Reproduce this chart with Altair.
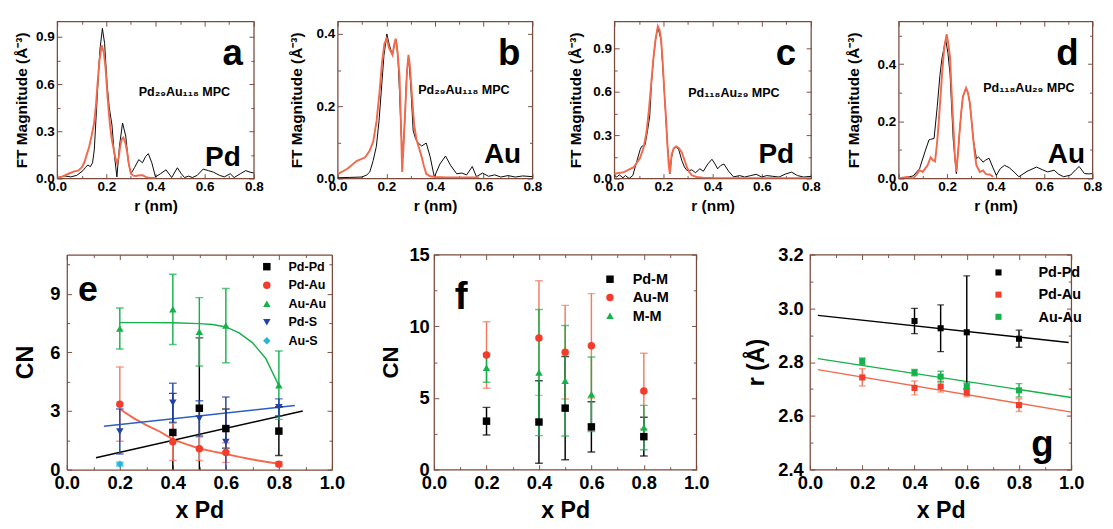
import altair as alt
import pandas as pd

FONT = "Liberation Sans"
FRAME = "#7a4a3c"
BLACK = "#000000"
RED = "#f23c2c"
SALMON = "#f2694c"
ERR_RED = "#f47a60"
GREEN = "#16b14b"
BLUE = "#2142a8"
CYAN = "#25b6d9"

# ---------------- panel a : Pd29Au118, Pd edge ----------------
a_black_r = [0.00, 0.03, 0.055, 0.08, 0.105, 0.115, 0.125, 0.135, 0.144, 0.151, 0.164, 0.174, 0.184, 0.193,
             0.203, 0.212, 0.223, 0.232, 0.243, 0.253, 0.266, 0.279, 0.29, 0.30, 0.315, 0.332, 0.347, 0.36,
             0.371, 0.385, 0.40, 0.42, 0.443, 0.466, 0.489, 0.505, 0.518, 0.535, 0.55, 0.57, 0.594, 0.615,
             0.636, 0.66, 0.68, 0.704, 0.72, 0.745, 0.767, 0.785, 0.80]
a_black_v = [0.005, 0.016, 0.01, 0.02, 0.05, 0.07, 0.086, 0.075, 0.1, 0.18, 0.55, 0.82, 0.955, 0.86,
             0.6, 0.45, 0.34, 0.16, 0.01, 0.2, 0.353, 0.27, 0.1, 0.03, 0.07, 0.12, 0.10, 0.14,
             0.158, 0.10, 0.01, 0.03, 0.055, 0.006, 0.068, 0.03, 0.006, 0.015, 0.006, 0.02, 0.06, 0.05,
             0.04, 0.02, 0.01, 0.03, 0.006, 0.03, 0.05, 0.04, 0.035]
a_red_r = [0.00, 0.02, 0.046, 0.07, 0.085, 0.10, 0.11, 0.12, 0.13, 0.14, 0.15, 0.157, 0.164, 0.172, 0.181,
           0.19, 0.197, 0.205, 0.214, 0.222, 0.23, 0.237, 0.243, 0.25, 0.256, 0.263, 0.269, 0.277, 0.285,
           0.292, 0.30, 0.31, 0.32, 0.335, 0.348, 0.36, 0.374, 0.39, 0.40]
a_red_v = [0.005, 0.012, 0.03, 0.045, 0.05, 0.07, 0.1, 0.15, 0.2, 0.27, 0.35, 0.45, 0.6, 0.75, 0.847,
           0.8, 0.7, 0.52, 0.35, 0.25, 0.185, 0.13, 0.1, 0.13, 0.2, 0.25, 0.261, 0.23, 0.165,
           0.09, 0.03, 0.018, 0.016, 0.02, 0.02, 0.01, 0.004, 0.003, 0.003]

# ---------------- panel b : Pd29Au118, Au edge ----------------
b_black_r = [0.00, 0.05, 0.10, 0.12, 0.132, 0.146, 0.159, 0.17, 0.179, 0.19, 0.202, 0.212, 0.225, 0.233,
             0.241, 0.248, 0.254, 0.261, 0.268, 0.275, 0.283, 0.291, 0.30, 0.31, 0.32, 0.331, 0.345, 0.364,
             0.38, 0.397, 0.42, 0.443, 0.465, 0.489, 0.51, 0.53, 0.553, 0.57, 0.595, 0.62, 0.645, 0.67,
             0.70, 0.73, 0.76, 0.80]
b_black_v = [0.002, 0.003, 0.004, 0.01, 0.018, 0.05, 0.089, 0.16, 0.24, 0.34, 0.40, 0.37, 0.342, 0.37,
             0.384, 0.33, 0.24, 0.12, 0.06, 0.15, 0.28, 0.338, 0.26, 0.133, 0.11, 0.098, 0.09, 0.098,
             0.06, 0.004, 0.04, 0.062, 0.035, 0.013, 0.015, 0.01, 0.033, 0.005, 0.015, 0.006, 0.01, 0.004,
             0.008, 0.004, 0.007, 0.005]
b_red_r = [0.00, 0.04, 0.079, 0.112, 0.13, 0.146, 0.16, 0.172, 0.182, 0.192, 0.201, 0.212, 0.225, 0.232,
           0.238, 0.246, 0.254, 0.26, 0.265, 0.271, 0.278, 0.285, 0.291, 0.297, 0.304, 0.314, 0.324, 0.334,
           0.344, 0.354, 0.364, 0.38, 0.40, 0.45, 0.50, 0.55, 0.58]
b_red_v = [0.012, 0.027, 0.049, 0.058, 0.075, 0.102, 0.16, 0.24, 0.32, 0.373, 0.387, 0.36, 0.342, 0.37,
           0.387, 0.35, 0.284, 0.15, 0.018, 0.1, 0.196, 0.3, 0.342, 0.31, 0.24, 0.15, 0.107, 0.085,
           0.062, 0.035, 0.013, 0.006, 0.004, 0.003, 0.003, 0.003, 0.003]

# ---------------- panel c : Pd118Au29, Pd edge ----------------
c_black_r = [0.00, 0.01, 0.02, 0.035, 0.045, 0.06, 0.075, 0.092, 0.105, 0.111, 0.125, 0.135, 0.144, 0.151,
             0.16, 0.168, 0.177, 0.19, 0.203, 0.216, 0.226, 0.233, 0.24, 0.249, 0.262, 0.275, 0.285, 0.295,
             0.305, 0.315, 0.33, 0.348, 0.362, 0.38, 0.397, 0.41, 0.42, 0.433, 0.446, 0.465, 0.485, 0.51,
             0.53, 0.555, 0.577, 0.60, 0.62, 0.645, 0.67, 0.695, 0.721, 0.745, 0.77, 0.80]
c_black_v = [0.022, 0.01, 0.025, 0.005, 0.02, 0.0, 0.02, 0.122, 0.2, 0.222, 0.233, 0.33, 0.433, 0.66,
             0.85, 0.967, 1.05, 0.96, 0.61, 0.233, 0.033, 0.15, 0.2, 0.222, 0.2, 0.122, 0.08, 0.056,
             0.055, 0.06, 0.04, 0.067, 0.05, 0.1, 0.133, 0.1, 0.067, 0.09, 0.1, 0.05, 0.011, 0.02,
             0.01, 0.02, 0.029, 0.01, 0.02, 0.015, 0.01, 0.03, 0.044, 0.02, 0.01, 0.015]
c_red_r = [0.00, 0.039, 0.079, 0.105, 0.12, 0.131, 0.141, 0.151, 0.16, 0.168, 0.177, 0.184, 0.19, 0.197,
           0.203, 0.21, 0.216, 0.221, 0.226, 0.233, 0.242, 0.252, 0.263, 0.275, 0.285, 0.295, 0.305, 0.315,
           0.335, 0.36, 0.40, 0.50, 0.60, 0.70, 0.80]
c_red_v = [0.033, 0.044, 0.078, 0.144, 0.22, 0.322, 0.48, 0.678, 0.85, 0.967, 1.056, 1.03, 0.967, 0.8,
           0.611, 0.42, 0.233, 0.1, 0.033, 0.167, 0.21, 0.222, 0.21, 0.178, 0.13, 0.078, 0.045, 0.022,
           0.01, 0.006, 0.003, 0.002, 0.002, 0.002, 0.002]

# ---------------- panel d : Pd118Au29, Au edge ----------------
d_black_r = [0.00, 0.033, 0.06, 0.086, 0.112, 0.125, 0.132, 0.146, 0.159, 0.17, 0.179, 0.194, 0.203, 0.212,
             0.225, 0.238, 0.245, 0.251, 0.258, 0.265, 0.278, 0.286, 0.294, 0.301, 0.308, 0.321, 0.329, 0.337,
             0.348, 0.36, 0.373, 0.388, 0.403, 0.42, 0.437, 0.456, 0.476, 0.496, 0.53, 0.569, 0.595, 0.615,
             0.642, 0.66, 0.681, 0.71, 0.73, 0.745, 0.767, 0.785, 0.80]
d_black_v = [0.0, 0.004, 0.009, 0.034, 0.103, 0.135, 0.137, 0.14, 0.251, 0.36, 0.423, 0.486, 0.44, 0.366,
             0.137, 0.017, 0.09, 0.16, 0.23, 0.286, 0.317, 0.3, 0.263, 0.2, 0.137, 0.069, 0.075, 0.069,
             0.057, 0.065, 0.071, 0.04, 0.011, 0.035, 0.046, 0.038, 0.023, 0.006, 0.025, 0.04, 0.03, 0.023,
             0.029, 0.015, 0.006, 0.012, 0.03, 0.042, 0.017, 0.016, 0.017]
d_red_r = [0.00, 0.033, 0.045, 0.06, 0.075, 0.086, 0.099, 0.119, 0.132, 0.14, 0.15, 0.158, 0.165, 0.172,
           0.179, 0.188, 0.198, 0.205, 0.212, 0.218, 0.225, 0.232, 0.238, 0.245, 0.251, 0.258, 0.265, 0.278,
           0.286, 0.294, 0.301, 0.308, 0.315, 0.321, 0.335, 0.348, 0.36, 0.375, 0.39]
d_red_v = [0.0, 0.005, 0.003, 0.0, 0.015, 0.029, 0.023, 0.046, 0.074, 0.065, 0.06, 0.12, 0.194, 0.28,
           0.366, 0.46, 0.505, 0.47, 0.423, 0.31, 0.194, 0.08, 0.023, 0.09, 0.16, 0.23, 0.286, 0.317,
           0.3, 0.263, 0.2, 0.137, 0.08, 0.046, 0.023, 0.028, 0.015, 0.014, 0.006]

# ---------------- panel e : coordination numbers ----------------
e_names = ["Pd-Pd", "Pd-Au", "Au-Au", "Pd-S", "Au-S"]
e_colors = [BLACK, RED, GREEN, BLUE, CYAN]
e_err_colors = [BLACK, ERR_RED, GREEN, BLUE, CYAN]
e_shapes = ["square", "circle", "triangle-up", "triangle-down", "diamond"]
e_x = {"Pd-Pd": [0.4, 0.5, 0.6, 0.8], "Pd-Au": [0.2, 0.4, 0.5, 0.6, 0.8],
       "Au-Au": [0.2, 0.4, 0.5, 0.6, 0.8], "Pd-S": [0.2, 0.4, 0.5, 0.6, 0.8], "Au-S": [0.2]}
e_v = {"Pd-Pd": [1.9, 3.14, 2.1, 1.97], "Pd-Au": [3.35, 1.42, 1.07, 0.87, 0.28],
       "Au-Au": [7.22, 8.2, 7.05, 7.37, 4.32], "Pd-S": [1.95, 3.42, 2.62, 1.41, 3.19], "Au-S": [0.28]}
e_e = {"Pd-Pd": [2.0, 3.6, 1.0, 1.25], "Pd-Au": [1.9, 0.95, 0.6, 0.5, 0.12],
       "Au-Au": [1.05, 1.8, 1.75, 1.9, 1.75], "Pd-S": [1.15, 1.0, 0.9, 2.3, 0.43], "Au-S": [0.1]}
e_fit_blue_x = [0.14, 0.86]
e_fit_blue_v = [2.22, 3.28]
e_fit_black_x = [0.11, 0.89]
e_fit_black_v = [0.61, 3.0]
e_fit_red_x = [0.2, 0.25, 0.3, 0.35, 0.4, 0.45, 0.5, 0.55, 0.6, 0.65, 0.7, 0.75, 0.8]
e_fit_red_v = [3.1, 2.65, 2.28, 1.95, 1.55, 1.3, 1.08, 0.93, 0.8, 0.65, 0.52, 0.4, 0.3]
e_fit_green_x = [0.2, 0.3, 0.4, 0.5, 0.55, 0.6, 0.65, 0.7, 0.75, 0.8]
e_fit_green_v = [7.52, 7.52, 7.51, 7.47, 7.42, 7.3, 7.0, 6.5, 5.7, 4.3]

# ---------------- panel f : total coordination ----------------
f_names = ["Pd-M", "Au-M", "M-M"]
f_colors = [BLACK, RED, GREEN]
f_err_colors = [BLACK, ERR_RED, GREEN]
f_shapes = ["square", "circle", "triangle-up"]
f_xs = [0.2, 0.4, 0.5, 0.6, 0.8]
f_v = {"Pd-M": [3.38, 3.32, 4.29, 2.98, 2.3], "Au-M": [8.0, 9.18, 8.19, 8.64, 5.48],
       "M-M": [7.1, 6.77, 6.2, 5.26, 2.93]}
f_e = {"Pd-M": [0.96, 2.88, 3.6, 1.75, 1.35], "Au-M": [2.32, 4.0, 3.27, 3.64, 2.64],
       "M-M": [1.0, 4.4, 3.85, 2.6, 1.55]}

# ---------------- panel g : bond distances ----------------
g_names = ["Pd-Pd", "Pd-Au", "Au-Au"]
g_colors = [BLACK, RED, GREEN]
g_err_colors = [BLACK, ERR_RED, GREEN]
g_x = {"Pd-Pd": [0.4, 0.5, 0.6, 0.8], "Pd-Au": [0.2, 0.4, 0.5, 0.6, 0.8], "Au-Au": [0.2, 0.4, 0.5, 0.6, 0.8]}
g_v = {"Pd-Pd": [2.953, 2.926, 2.911, 2.887], "Pd-Au": [2.743, 2.704, 2.709, 2.686, 2.640],
       "Au-Au": [2.803, 2.761, 2.746, 2.71, 2.695]}
g_e = {"Pd-Pd": [0.047, 0.087, 0.21, 0.032], "Pd-Au": [0.032, 0.026, 0.02, 0.015, 0.024],
       "Au-Au": [0.012, 0.012, 0.02, 0.012, 0.025]}
g_fit_x = {"Pd-Pd": [0.03, 0.99], "Pd-Au": [0.03, 1.0], "Au-Au": [0.03, 1.0]}
g_fit_v = {"Pd-Pd": [2.974, 2.873], "Pd-Au": [2.772, 2.614], "Au-Au": [2.813, 2.668]}
g_fit_colors = {"Pd-Pd": BLACK, "Pd-Au": SALMON, "Au-Au": GREEN}

TOP_TICKS_X = [0.0, 0.2, 0.4, 0.6, 0.8]
TOP_MINOR_X = [0.1, 0.3, 0.5, 0.7]
BOT_TICKS_X = [0.0, 0.2, 0.4, 0.6, 0.8, 1.0]
BOT_MINOR_X = [0.1, 0.3, 0.5, 0.7, 0.9]


def mkscales(xdom, ydom, xrange=None):
    if xrange is None:
        xs = alt.Scale(domain=xdom, nice=False, zero=False)
    else:
        xs = alt.Scale(domain=xdom, range=xrange, nice=False, zero=False)
    return xs, alt.Scale(domain=ydom, nice=False, zero=False)


def frame_layers(xs, ys, xdom, ydom, xmaj, xmin, ymaj, ymin, big=5, small=3, left_off=0, domains=False):
    df = pd.DataFrame({"fx": [xdom[0]], "fy": [ydom[0]]})
    out = []
    for orient in ("bottom", "top"):
        for vals, sz in ((xmaj, big), (xmin, small)):
            out.append(alt.Chart(df).mark_point(opacity=0).encode(
                x=alt.X("fx:Q", scale=xs, axis=alt.Axis(
                    orient=orient, values=vals, labels=False, domain=False, ticks=True,
                    tickSize=sz, offset=-sz, tickColor=FRAME, tickWidth=1, grid=False, title=None)),
                y=alt.Y("fy:Q", scale=ys, axis=None)))
    for orient in ("left", "right"):
        for vals, sz in ((ymaj, big), (ymin, small)):
            off = -(sz + (left_off if orient == "left" else 0))
            out.append(alt.Chart(df).mark_point(opacity=0).encode(
                x=alt.X("fx:Q", scale=xs, axis=None),
                y=alt.Y("fy:Q", scale=ys, axis=alt.Axis(
                    orient=orient, values=vals, labels=False, domain=False, ticks=True,
                    tickSize=sz, offset=off, tickColor=FRAME, tickWidth=1, grid=False, title=None))))
    if domains:
        out.append(alt.Chart(df).mark_point(opacity=0).encode(
            x=alt.X("fx:Q", scale=xs, axis=alt.Axis(
                orient="top", labels=False, ticks=False, domain=True, domainColor=FRAME,
                domainWidth=1.3, grid=False, title=None)),
            y=alt.Y("fy:Q", scale=ys, axis=None)))
        out.append(alt.Chart(df).mark_point(opacity=0).encode(
            x=alt.X("fx:Q", scale=xs, axis=None),
            y=alt.Y("fy:Q", scale=ys, axis=alt.Axis(
                orient="right", labels=False, ticks=False, domain=True, domainColor=FRAME,
                domainWidth=1.3, grid=False, title=None))))
    return out


def axis_layer(xs, ys, xdom, ydom, xvals, yvals, xfmt, yfmt, xtitle, ytitle, st, yoff=0, domain=False):
    df = pd.DataFrame({"fx": [xdom[0]], "fy": [ydom[0]]})
    common = dict(ticks=False, tickSize=0, domain=domain, domainColor=FRAME, domainWidth=1.3,
                  grid=False, labelFlush=False,
                  labelOverlap=False, labelFont=FONT, labelFontWeight="bold", labelColor="black",
                  titleFont=FONT, titleFontWeight="bold", titleColor="black")
    return alt.Chart(df).mark_point(opacity=0).encode(
        x=alt.X("fx:Q", scale=xs, axis=alt.Axis(
            orient="bottom", values=xvals, format=xfmt, title=xtitle,
            labelFontSize=st["lfs"], labelPadding=st["xlp"],
            titleFontSize=st["xtfs"], titlePadding=st["xtp"], **common)),
        y=alt.Y("fy:Q", scale=ys, axis=alt.Axis(
            orient="left", values=yvals, format=yfmt, title=ytitle, offset=yoff,
            labelFontSize=st["lfs"], labelPadding=st["ylp"],
            titleFontSize=st["ytfs"], titlePadding=st["ytp"], **common)))


def text_layer(txt, x, y, size, align="center"):
    return alt.Chart(pd.DataFrame({"t": [txt]})).mark_text(
        font=FONT, fontSize=size, fontWeight="bold", color="black", align=align,
        baseline="alphabetic").encode(x=alt.value(x), y=alt.value(y), text="t:N")


YT_TOP = "FT Magnitude (Å⁻³)"


def top_panel(br, bv, rr, rv, ymax, ymaj, ymin, width, ytp, texts):
    st = dict(lfs=14, xlp=2, xtfs=16, xtp=4, ylp=3, ytfs=16, ytp=ytp)
    xdom, ydom = [0, 0.8], [0, ymax]
    xs, ys = mkscales(xdom, ydom)
    layers = [axis_layer(xs, ys, xdom, ydom, TOP_TICKS_X, ymaj, ".1f", ".1f", "r (nm)", YT_TOP, st)]
    layers += frame_layers(xs, ys, xdom, ydom, TOP_TICKS_X, TOP_MINOR_X, ymaj, ymin)
    layers.append(alt.Chart(pd.DataFrame({"r": br, "v": bv})).mark_line(
        color=BLACK, strokeWidth=1, clip=True).encode(
        x=alt.X("r:Q", scale=xs, axis=None), y=alt.Y("v:Q", scale=ys, axis=None)))
    layers.append(alt.Chart(pd.DataFrame({"r": rr, "v": rv})).mark_line(
        color=SALMON, strokeWidth=2, clip=True).encode(
        x=alt.X("r:Q", scale=xs, axis=None), y=alt.Y("v:Q", scale=ys, axis=None)))
    for t in texts:
        layers.append(text_layer(*t))
    return alt.layer(*layers).resolve_axis(x="independent", y="independent").properties(
        width=width, height=163)


def err_layers(xs, ys, xv, vv, ev, color, cap=8):
    df = pd.DataFrame({"x": xv, "v": vv, "e": ev})
    base = alt.Chart(df).transform_calculate(lo="datum.v - datum.e", hi="datum.v + datum.e")
    rule = base.mark_rule(color=color, strokeWidth=1.5, clip=True).encode(
        x=alt.X("x:Q", scale=xs, axis=None), y=alt.Y("lo:Q", scale=ys, axis=None), y2="hi:Q")
    lo = base.mark_tick(color=color, orient="horizontal", size=cap, thickness=1.5, clip=True).encode(
        x=alt.X("x:Q", scale=xs, axis=None), y=alt.Y("lo:Q", scale=ys, axis=None))
    hi = base.mark_tick(color=color, orient="horizontal", size=cap, thickness=1.5, clip=True).encode(
        x=alt.X("x:Q", scale=xs, axis=None), y=alt.Y("hi:Q", scale=ys, axis=None))
    return [rule, lo, hi]


def legend(lx, ly, fs, ss, rp, lo, sym=None):
    kw = dict(title=None, orient="none", legendX=lx, legendY=ly, padding=0, labelFont=FONT,
              labelFontSize=fs, labelFontWeight="bold", labelColor="black", symbolSize=ss,
              symbolStrokeWidth=0, rowPadding=rp, labelOffset=lo)
    if sym:
        kw["symbolType"] = sym
    return alt.Legend(**kw)


def line_layer(xs, ys, xv, vv, color, w=1.5):
    return alt.Chart(pd.DataFrame({"x": xv, "v": vv})).mark_line(
        color=color, strokeWidth=w, clip=True).encode(
        x=alt.X("x:Q", scale=xs, axis=None), y=alt.Y("v:Q", scale=ys, axis=None))


# ---- top row ----
pa = top_panel(a_black_r, a_black_v, a_red_r, a_red_v, 1.0, [0.0, 0.3, 0.6, 0.9], [0.15, 0.45, 0.75], 204, 6,
               [("a", 182, 45, 38), ("Pd₂₉Au₁₁₈ MPC", 132, 77, 13), ("Pd", 172, 150, 29)])
pb = top_panel(b_black_r, b_black_v, b_red_r, b_red_v, 0.435, [0.0, 0.2, 0.4], [0.1, 0.3], 202, 12,
               [("b", 178, 45, 38), ("Pd₂₉Au₁₁₈ MPC", 131, 75, 13), ("Au", 171, 147, 29)])
pc = top_panel(c_black_r, c_black_v, c_red_r, c_red_v, 1.089, [0.0, 0.3, 0.6, 0.9], [0.15, 0.45, 0.75], 204, 10,
               [("c", 178, 45, 38), ("Pd₁₁₈Au₂₉ MPC", 124, 78, 13), ("Pd", 168, 147, 29)])
pd_ = top_panel(d_black_r, d_black_v, d_red_r, d_red_v, 0.55, [0.0, 0.2, 0.4], [0.1, 0.3, 0.5], 201, 16,
                [("d", 175, 45, 38), ("Pd₁₁₈Au₂₉ MPC", 135, 73, 13), ("Au", 174, 147, 29)])

# ---- panel e (plot area inset by EO px inside its view) ----
EO = 10
xdom, ydom = [0, 1.0], [0, 11]
xs, ys = mkscales(xdom, ydom, [EO, 275 + EO])
E_ST = dict(lfs=19, xlp=5, xtfs=24, xtp=7, ylp=7, ytfs=24, ytp=13)
le = [axis_layer(xs, ys, xdom, ydom, BOT_TICKS_X, [0, 3, 6, 9], ".1f", "d", "x Pd", "CN", E_ST,
                 yoff=-EO, domain=True)]
le += frame_layers(xs, ys, xdom, ydom, BOT_TICKS_X, BOT_MINOR_X, [0, 3, 6, 9], [1.5, 4.5, 7.5, 10.5],
                   left_off=EO, domains=True)
le.append(line_layer(xs, ys, e_fit_green_x, e_fit_green_v, GREEN))
le.append(line_layer(xs, ys, e_fit_red_x, e_fit_red_v, SALMON, 2))
le.append(line_layer(xs, ys, e_fit_black_x, e_fit_black_v, BLACK))
le.append(line_layer(xs, ys, e_fit_blue_x, e_fit_blue_v, "#2a5fc4"))
rows = []
for n, c in zip(e_names, e_err_colors):
    le += err_layers(xs, ys, e_x[n], e_v[n], e_e[n], c)
    for xv, vv in zip(e_x[n], e_v[n]):
        rows.append({"x": xv, "v": vv, "se": n})
leg_e = legend(201 + EO, 6, 13, 60, 5.2, 16)
le.append(alt.Chart(pd.DataFrame(rows)).mark_point(filled=True, opacity=1, size=60, strokeWidth=0).encode(
    x=alt.X("x:Q", scale=xs, axis=None), y=alt.Y("v:Q", scale=ys, axis=None),
    color=alt.Color("se:N", scale=alt.Scale(domain=e_names, range=e_colors), legend=leg_e),
    shape=alt.Shape("se:N", scale=alt.Scale(domain=e_names, range=e_shapes), legend=leg_e)))
le.append(text_layer("e", 22 + EO, 48, 37))
pe = alt.layer(*le).resolve_axis(x="independent", y="independent").properties(
    width=275 + EO, height=223, view=alt.ViewBackground(stroke="transparent"))

# ---- panel f ----
xdom, ydom = [0, 1.0], [0, 15]
xs, ys = mkscales(xdom, ydom)
F_ST = dict(lfs=19, xlp=5, xtfs=24, xtp=7, ylp=5, ytfs=23, ytp=7)
lf = [axis_layer(xs, ys, xdom, ydom, BOT_TICKS_X, [0, 5, 10, 15], ".1f", "d", "x Pd", "CN", F_ST)]
lf += frame_layers(xs, ys, xdom, ydom, BOT_TICKS_X, BOT_MINOR_X, [0, 5, 10, 15], [2.5, 7.5, 12.5])
rows = []
for n, c in zip(["Au-M", "Pd-M", "M-M"], [ERR_RED, BLACK, GREEN]):
    lf += err_layers(xs, ys, f_xs, f_v[n], f_e[n], c)
for n in f_names:
    for xv, vv in zip(f_xs, f_v[n]):
        rows.append({"x": xv, "v": vv, "sf": n})
leg_f = legend(175, 18, 15, 60, 3, 16)
lf.append(alt.Chart(pd.DataFrame(rows)).mark_point(filled=True, opacity=1, size=60, strokeWidth=0).encode(
    x=alt.X("x:Q", scale=xs, axis=None), y=alt.Y("v:Q", scale=ys, axis=None),
    color=alt.Color("sf:N", scale=alt.Scale(domain=f_names, range=f_colors), legend=leg_f),
    shape=alt.Shape("sf:N", scale=alt.Scale(domain=f_names, range=f_shapes), legend=leg_f)))
lf.append(text_layer("f", 28, 56, 40))
pf = alt.layer(*lf).resolve_axis(x="independent", y="independent").properties(width=272, height=223)

# ---- panel g ----
xdom, ydom = [0, 1.0], [2.4, 3.2]
xs, ys = mkscales(xdom, ydom)
G_ST = dict(lfs=19, xlp=5, xtfs=24, xtp=7, ylp=7, ytfs=24, ytp=10)
lg = [axis_layer(xs, ys, xdom, ydom, BOT_TICKS_X, [2.4, 2.6, 2.8, 3.0, 3.2], ".1f", ".1f", "x Pd", "r (Å)", G_ST)]
lg += frame_layers(xs, ys, xdom, ydom, BOT_TICKS_X, BOT_MINOR_X, [2.4, 2.6, 2.8, 3.0, 3.2],
                   [2.5, 2.7, 2.9, 3.1])
for n in g_names:
    lg.append(line_layer(xs, ys, g_fit_x[n], g_fit_v[n], g_fit_colors[n]))
rows = []
for n, c in zip(g_names, g_err_colors):
    lg += err_layers(xs, ys, g_x[n], g_v[n], g_e[n], c, cap=7)
    for xv, vv in zip(g_x[n], g_v[n]):
        rows.append({"x": xv, "v": vv, "sg": n})
leg_g = legend(188, 11, 15, 40, 7, 34, "square")
lg.append(alt.Chart(pd.DataFrame(rows)).mark_point(filled=True, opacity=1, size=40, strokeWidth=0,
                                                    shape="square").encode(
    x=alt.X("x:Q", scale=xs, axis=None), y=alt.Y("v:Q", scale=ys, axis=None),
    color=alt.Color("sg:N", scale=alt.Scale(domain=g_names, range=g_colors), legend=leg_g)))
lg.append(text_layer("g", 241, 209, 38))
pg = alt.layer(*lg).resolve_axis(x="independent", y="independent").properties(width=271, height=223)

top = alt.hconcat(pa, pb, pc, pd_, spacing=24, bounds="full").resolve_scale(
    color="independent", shape="independent")
bottom = alt.hconcat(pe, pf, pg, spacing=35, bounds="full").resolve_scale(
    color="independent", shape="independent")
chart = alt.concat(top, bottom, columns=1, align="none", spacing=32).resolve_scale(
    color="independent", shape="independent").properties(
    padding={"left": 5, "top": 2, "right": 2, "bottom": 2}, background="white"
).configure_view(stroke=FRAME, strokeWidth=1.3)

chart.save("out.html", embed_options={"renderer": "svg", "actions": False})
